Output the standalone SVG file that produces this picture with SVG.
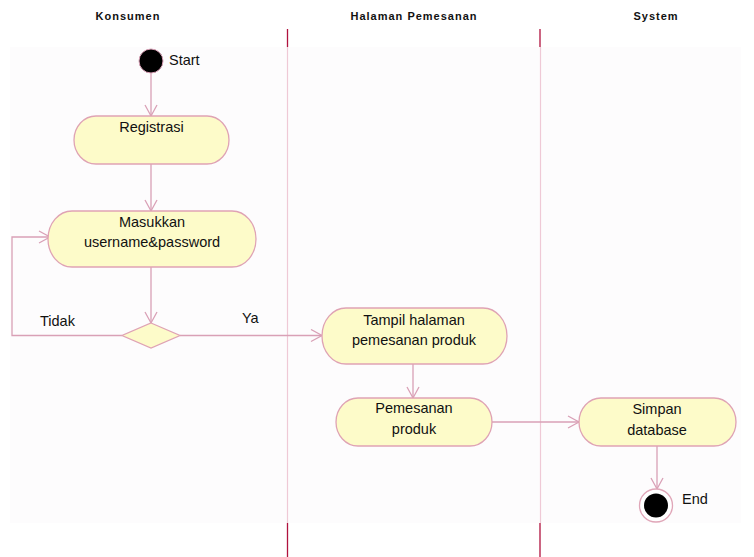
<svg xmlns="http://www.w3.org/2000/svg" width="754" height="557" viewBox="0 0 754 557">
<defs>
<style>
.hdr{font-family:"Liberation Sans",Arial,sans-serif;font-size:11px;font-weight:bold;letter-spacing:1px;fill:#111;text-anchor:middle}
.t{font-family:"Liberation Sans",Arial,sans-serif;font-size:14.5px;fill:#111;text-anchor:middle}
.lbl{font-family:"Liberation Sans",Arial,sans-serif;font-size:14.5px;fill:#111}
.act{fill:#fdfbc9;stroke:#dfa3b4;stroke-width:1.3}
.edge{fill:none;stroke:#d9a0b6;stroke-width:1.3}
.lane{stroke:#efc9d6;stroke-width:1.2}
.laned{stroke:#b0123e;stroke-width:1.3}
</style>
<marker id="arr" markerUnits="userSpaceOnUse" markerWidth="14" markerHeight="14" viewBox="0 0 14 14" refX="12" refY="7" orient="auto">
<path d="M1,1 L12,7 L1,13" fill="none" stroke="#d9a0b6" stroke-width="1.3"/>
</marker>
</defs>
<rect x="0" y="0" width="754" height="557" fill="#ffffff"/>
<g id="lanes">
<rect x="10" y="47" width="731" height="476" fill="#fdfcfd"/>
<text class="hdr" x="128" y="20">Konsumen</text>
<text class="hdr" x="414" y="20">Halaman Pemesanan</text>
<text class="hdr" x="656" y="20">System</text>
<line class="laned" x1="287.5" y1="29" x2="287.5" y2="47"/>
<line class="lane" x1="287.5" y1="47" x2="287.5" y2="523"/>
<line class="laned" x1="287.5" y1="523" x2="287.5" y2="557"/>
<line class="laned" x1="540" y1="29" x2="540" y2="47"/>
<line class="lane" x1="540.5" y1="47" x2="540.5" y2="523"/>
<line class="laned" x1="540" y1="523" x2="540" y2="557"/>
</g>
<g id="connectors">
<line class="edge" x1="151" y1="73" x2="151" y2="116" marker-end="url(#arr)"/>
<line class="edge" x1="151" y1="164" x2="151" y2="211" marker-end="url(#arr)"/>
<line class="edge" x1="151" y1="267" x2="151" y2="323" marker-end="url(#arr)"/>
<polyline class="edge" points="122,335.5 12,335.5 12,237 50,237" marker-end="url(#arr)"/>
<line class="edge" x1="180" y1="335.5" x2="322" y2="335.5" marker-end="url(#arr)"/>
<line class="edge" x1="413" y1="364" x2="413" y2="398" marker-end="url(#arr)"/>
<line class="edge" x1="492" y1="422" x2="579" y2="422" marker-end="url(#arr)"/>
<line class="edge" x1="657" y1="446" x2="657" y2="489" marker-end="url(#arr)"/>
<text class="lbl" x="40" y="326">Tidak</text>
<text class="lbl" x="242" y="323">Ya</text>
</g>
<g id="start">
<circle cx="151" cy="61" r="12" fill="#000" stroke="#d9a0b6" stroke-width="1"/>
<text class="lbl" x="169" y="65">Start</text>
</g>
<g id="registrasi">
<rect class="act" x="74" y="116" width="155" height="48" rx="22" ry="24"/>
<text class="t" x="151.5" y="132">Registrasi</text>
</g>
<g id="masukkan">
<rect class="act" x="48" y="211" width="208" height="56" rx="24" ry="28"/>
<text class="t" x="152" y="227">Masukkan</text>
<text class="t" x="152" y="247">username&amp;password</text>
</g>
<g id="decision">
<polygon points="151,323 180,335.5 151,348 122,335.5" fill="#fdfbc9" stroke="#dfa3b4" stroke-width="1.3"/>
</g>
<g id="tampil">
<rect class="act" x="322" y="308" width="185" height="56" rx="24" ry="28"/>
<text class="t" x="414" y="325">Tampil halaman</text>
<text class="t" x="414" y="345">pemesanan produk</text>
</g>
<g id="pemesanan">
<rect class="act" x="336" y="398" width="156" height="48" rx="22" ry="24"/>
<text class="t" x="414" y="413">Pemesanan</text>
<text class="t" x="414" y="434">produk</text>
</g>
<g id="simpan">
<rect class="act" x="579" y="398" width="157" height="48" rx="22" ry="24"/>
<text class="t" x="657" y="414">Simpan</text>
<text class="t" x="657" y="435">database</text>
</g>
<g id="end">
<circle cx="656" cy="505.5" r="16.5" fill="#fff" stroke="#e0a6b8" stroke-width="1.3"/>
<circle cx="656" cy="505.5" r="12" fill="#000"/>
<text class="lbl" x="682" y="504">End</text>
</g>
</svg>
